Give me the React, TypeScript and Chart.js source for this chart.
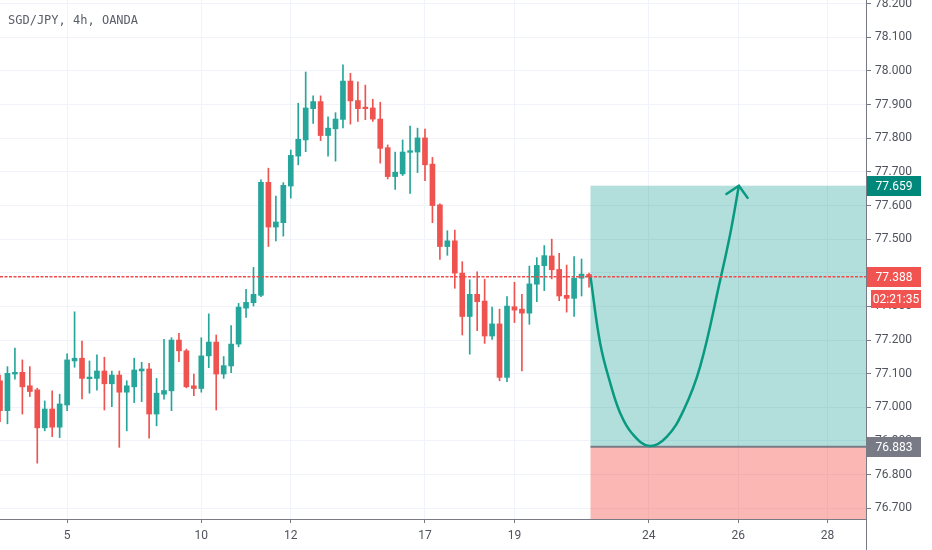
import React, { useEffect, useRef } from 'react';
import { Chart, registerables } from 'chart.js';

Chart.register(...registerables);

const title = 'SGD/JPY, 4h, OANDA';

const opens = [77.079, 76.990, 77.099, 77.104, 77.064, 77.052, 76.939, 76.995, 76.941, 77.007,
  77.138, 77.146, 77.085, 77.086, 77.108, 77.070, 77.096, 77.045, 77.061, 77.108,
  77.114, 76.980, 77.039, 77.049, 77.200, 77.168, 77.064, 77.056, 77.153, 77.194,
  77.099, 77.123, 77.188, 77.295, 77.311, 77.333, 77.669, 77.536, 77.549, 77.658,
  77.747, 77.795, 77.888, 77.909, 77.808, 77.828, 77.856, 77.970, 77.912, 77.891,
  77.890, 77.857, 77.772, 77.686, 77.694, 77.758, 77.759, 77.801, 77.723, 77.602,
  77.478, 77.495, 77.399, 77.270, 77.336, 77.316, 77.212, 77.248, 77.089, 77.299,
  77.292, 77.280, 77.366, 77.421, 77.450, 77.410, 77.333, 77.324, 77.384, 77.395];
const highs = [77.096, 77.121, 77.176, 77.141, 77.121, 77.057, 77.019, 77.049, 77.039, 77.159,
  77.284, 77.197, 77.138, 77.156, 77.149, 77.108, 77.108, 77.079, 77.146, 77.134,
  77.131, 77.086, 77.202, 77.207, 77.220, 77.173, 77.099, 77.207, 77.278, 77.215,
  77.151, 77.243, 77.309, 77.351, 77.416, 77.676, 77.711, 77.628, 77.668, 77.765,
  77.904, 77.997, 77.926, 77.926, 77.864, 77.876, 78.018, 77.993, 77.968, 77.958,
  77.916, 77.907, 77.780, 77.759, 77.795, 77.836, 77.830, 77.827, 77.743, 77.605,
  77.525, 77.527, 77.433, 77.379, 77.403, 77.381, 77.298, 77.292, 77.329, 77.372,
  77.336, 77.420, 77.445, 77.481, 77.500, 77.458, 77.423, 77.448, 77.441, 77.399];
const lows = [76.957, 76.951, 77.084, 76.980, 77.032, 76.834, 76.930, 76.913, 76.910, 76.990,
  77.119, 77.025, 77.042, 77.051, 76.992, 77.002, 76.881, 76.930, 77.014, 77.017,
  76.908, 76.945, 77.024, 76.990, 77.136, 77.058, 77.035, 77.045, 77.118, 76.992,
  77.086, 77.103, 77.180, 77.267, 77.301, 77.329, 77.478, 77.495, 77.509, 77.622,
  77.721, 77.760, 77.844, 77.793, 77.747, 77.732, 77.831, 77.842, 77.850, 77.855,
  77.850, 77.726, 77.679, 77.648, 77.689, 77.636, 77.698, 77.674, 77.549, 77.440,
  77.452, 77.354, 77.215, 77.158, 77.228, 77.190, 77.202, 77.079, 77.076, 77.252,
  77.108, 77.247, 77.314, 77.347, 77.382, 77.317, 77.283, 77.270, 77.331, 77.357];
const closes = [76.990, 77.101, 77.104, 77.061, 77.047, 76.939, 76.995, 76.941, 77.010, 77.141,
  77.146, 77.086, 77.090, 77.108, 77.070, 77.096, 77.045, 77.064, 77.111, 77.114,
  76.980, 77.042, 77.050, 77.200, 77.168, 77.061, 77.056, 77.153, 77.194, 77.099,
  77.124, 77.188, 77.298, 77.312, 77.336, 77.669, 77.536, 77.551, 77.660, 77.749,
  77.797, 77.890, 77.909, 77.808, 77.830, 77.857, 77.970, 77.911, 77.888, 77.888,
  77.857, 77.770, 77.686, 77.699, 77.759, 77.763, 77.801, 77.721, 77.600, 77.478,
  77.495, 77.399, 77.270, 77.336, 77.314, 77.212, 77.248, 77.089, 77.301, 77.289,
  77.280, 77.367, 77.422, 77.451, 77.409, 77.331, 77.324, 77.384, 77.396, 77.388];

const dayTickIndex = [9, 27, 39, 57, 69, 87, 99, 111];
const dayTickLabels = ['5', '10', '12', '17', '19', '24', '26', '28'];
const priceTicks = [76.7, 76.8, 76.9, 77.0, 77.1, 77.2, 77.3, 77.4, 77.5, 77.6, 77.7, 77.8, 77.9, 78.0, 78.1, 78.2];

const indexMin = 0;
const indexMax = 116.15;
const priceMin = 76.668;
const priceMax = 78.211;

const entryIndex = 79.2;
const entryPrice = 77.388;
const targetPrice = 77.659;
const stopPrice = 76.883;
const countdownText = '02:21:35';

const pathIndex = [79.2, 80.5, 81.85, 83.2, 84.75, 87.1, 89.45, 91.7, 93.9, 96.6, 97.95, 99.1];
const pathPrice = [77.388, 77.19, 77.072, 76.982, 76.923, 76.885, 76.913, 76.992, 77.121, 77.379, 77.517, 77.659];

const UP = '#26a69a';
const DOWN = '#ef5350';
const GRID = '#f0f3fa';
const AXIS = '#787b86';
const TEXT = '#50535e';
const FONT = 'Roboto';

const overlayPlugin = {
  id: 'positionOverlay',
  beforeDatasetsDraw(chart: any) {
    const { ctx, chartArea: a, scales } = chart;
    const x = scales.x, y = scales.y;
    const x0 = x.getPixelForValue(entryIndex);
    const yT = y.getPixelForValue(targetPrice);
    const yS = y.getPixelForValue(stopPrice);
    ctx.save();
    ctx.beginPath();
    ctx.rect(a.left, a.top, a.right - a.left, a.bottom - a.top);
    ctx.clip();
    ctx.fillStyle = 'rgba(0,150,136,0.3)';
    ctx.fillRect(x0, yT, a.right - x0, yS - yT);
    ctx.fillStyle = 'rgba(244,67,54,0.38)';
    ctx.fillRect(x0, yS, a.right - x0, a.bottom - yS);
    ctx.strokeStyle = AXIS;
    ctx.lineWidth = 2;
    ctx.beginPath();
    ctx.moveTo(x0, yS);
    ctx.lineTo(a.right, yS);
    ctx.stroke();
    ctx.restore();
  },
  afterDatasetsDraw(chart: any) {
    const { ctx, chartArea: a, scales } = chart;
    const y = scales.y;
    const yE = y.getPixelForValue(entryPrice);
    ctx.save();
    ctx.strokeStyle = '#f04a4a';
    ctx.lineWidth = 1.5;
    ctx.setLineDash([3, 1.5]);
    ctx.beginPath();
    ctx.moveTo(a.left, yE);
    ctx.lineTo(a.right, yE);
    ctx.stroke();
    ctx.setLineDash([]);
    const meta = chart.getDatasetMeta(0);
    const pts = meta.data;
    if (pts.length > 1) {
      const p = pts[pts.length - 1];
      const q = pts[pts.length - 2];
      const ang = Math.atan2(q.y - p.y, q.x - p.x);
      const len = 15;
      const spread = 0.8;
      ctx.strokeStyle = '#089981';
      ctx.lineWidth = 2.5;
      ctx.lineCap = 'round';
      ctx.beginPath();
      ctx.moveTo(p.x + len * Math.cos(ang - spread), p.y + len * Math.sin(ang - spread));
      ctx.lineTo(p.x, p.y);
      ctx.lineTo(p.x + len * Math.cos(ang + spread), p.y + len * Math.sin(ang + spread));
      ctx.stroke();
    }
    ctx.restore();
  },
  afterDraw(chart: any) {
    const { ctx, chartArea: a, scales } = chart;
    const y = scales.y;
    ctx.save();
    ctx.strokeStyle = AXIS;
    ctx.lineWidth = 1;
    ctx.beginPath();
    ctx.moveTo(a.right + 0.5, 0);
    ctx.lineTo(a.right + 0.5, chart.height);
    ctx.moveTo(0, a.bottom + 0.5);
    ctx.lineTo(a.right, a.bottom + 0.5);
    ctx.stroke();

    const badge = (x: number, yc: number, w: number, h: number, bg: string, text: string) => {
      ctx.fillStyle = bg;
      ctx.fillRect(x, Math.round(yc - h / 2), w, h);
      ctx.fillStyle = '#ffffff';
      ctx.font = `12px ${FONT}`;
      ctx.textAlign = 'center';
      ctx.textBaseline = 'middle';
      ctx.fillText(text, x + w / 2, Math.round(yc) + 0.5);
    };
    const yT = y.getPixelForValue(targetPrice);
    const yE = y.getPixelForValue(entryPrice);
    const yS = y.getPixelForValue(stopPrice);
    badge(a.right + 1, yT, 54, 20, '#00897b', targetPrice.toFixed(3));
    badge(a.right + 1, yE, 54, 20, '#f05350', entryPrice.toFixed(3));
    badge(a.right + 5, yE + 22, 50, 18, '#f05350', countdownText);
    badge(a.right + 1, yS, 54, 20, AXIS, stopPrice.toFixed(3));
    ctx.restore();
  },
};

export default function App() {
  const ref = useRef<HTMLCanvasElement>(null);
  useEffect(() => {
    document.body.style.margin = '0';
    const n = opens.length;
    const idx = Array.from({ length: n }, (_, i) => i);
    const colors = idx.map((i) => (closes[i] >= opens[i] ? UP : DOWN));
    const chart = new Chart(ref.current as HTMLCanvasElement, {
      type: 'bar',
      data: {
        datasets: [
          {
            type: 'line',
            data: pathIndex.map((v, i) => ({ x: v, y: pathPrice[i] })),
            borderColor: '#089981',
            borderWidth: 2.5,
            pointRadius: 0,
            tension: 0.4,
            fill: false,
            order: 0,
          } as any,
          {
            type: 'bar',
            data: idx.map((i) => ({ x: i, y: [opens[i], closes[i]] })),
            backgroundColor: colors,
            borderWidth: 0,
            barThickness: 5,
            minBarLength: 1.5,
            grouped: false,
            order: 1,
          } as any,
          {
            type: 'bar',
            data: idx.map((i) => ({ x: i, y: [lows[i], highs[i]] })),
            backgroundColor: colors,
            borderWidth: 0,
            barThickness: 1,
            grouped: false,
            order: 2,
          } as any,
        ],
      },
      options: {
        responsive: false,
        animation: false,
        events: [],
        layout: { padding: 0 },
        plugins: { legend: { display: false }, tooltip: { enabled: false }, title: { display: false } },
        scales: {
          x: {
            type: 'linear',
            min: indexMin,
            max: indexMax,
            offset: false,
            grid: { offset: false, color: GRID, tickColor: AXIS, tickLength: 4, lineWidth: 1 },
            border: { display: false },
            ticks: {
              autoSkip: false,
              maxRotation: 0,
              padding: 6,
              color: TEXT,
              font: { family: FONT, size: 12 },
              callback: (_v: any, i: number) => dayTickLabels[i],
            },
            afterBuildTicks: (s: any) => {
              s.ticks = dayTickIndex.map((v) => ({ value: v }));
            },
            afterFit: (s: any) => {
              s.height = 31;
              s.paddingLeft = 0;
              s.paddingRight = 0;
              s.paddingTop = 0;
              s.paddingBottom = 0;
            },
          },
          y: {
            type: 'linear',
            position: 'right',
            min: priceMin,
            max: priceMax,
            grid: { color: GRID, tickColor: AXIS, tickLength: 5, lineWidth: 1 },
            border: { display: false },
            ticks: {
              autoSkip: false,
              padding: 4,
              color: TEXT,
              font: { family: FONT, size: 12 },
              callback: (v: any) => Number(v).toFixed(3),
            },
            afterBuildTicks: (s: any) => {
              s.ticks = priceTicks.map((v) => ({ value: v }));
            },
            afterFit: (s: any) => {
              s.width = 66;
              s.paddingLeft = 0;
              s.paddingRight = 0;
              s.paddingTop = 0;
              s.paddingBottom = 0;
            },
          },
        },
      } as any,
      plugins: [overlayPlugin],
    });
    return () => chart.destroy();
  }, []);

  return (
    <div style={{ position: 'relative', width: 932, height: 550, background: '#ffffff' }}>
      <canvas ref={ref} width={932} height={550} style={{ display: 'block' }} />
      <div
        style={{
          position: 'absolute',
          left: 8,
          top: 13,
          font: '12px "DejaVu Sans Mono"',
          lineHeight: '14px',
          color: '#5d606b',
          whiteSpace: 'nowrap',
        }}
      >
        {title}
      </div>
    </div>
  );
}
